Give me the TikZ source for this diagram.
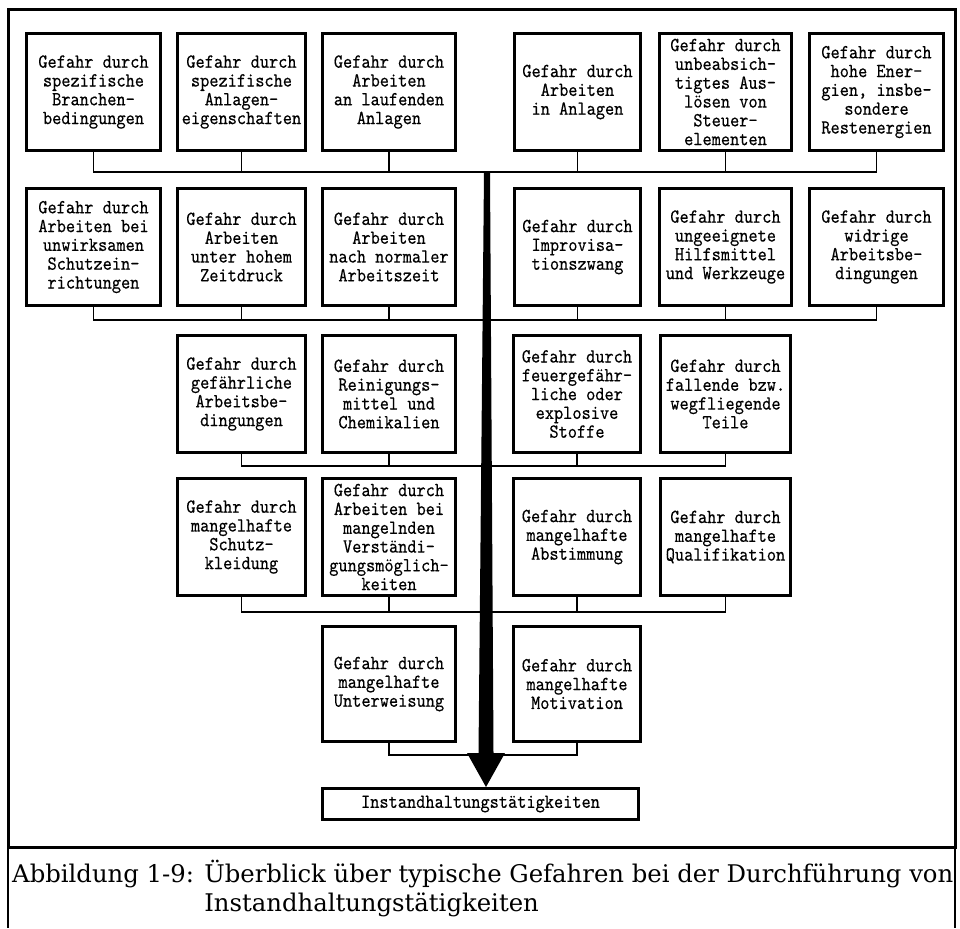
\documentclass[tikz,border=0pt]{standalone}
\usepackage{fontspec}
\usepackage{graphicx}
\newfontfamily\capfont{DejaVu Serif}
\newfontfamily\boxfont{lmmono10-regular.otf}[FakeStretch=0.875, FakeBold=0.35]
\usetikzlibrary{calc}
\tikzset{
  hbox/.style={draw, line width=2.6pt, align=center, inner sep=0pt,
    font=\boxfont\fontsize{20}{18.8}\selectfont},
  conn/.style={line width=1.8pt},
  framel/.style={line width=3pt},
  capl/.style={line width=1.2pt},
}
\begin{document}
\begin{tikzpicture}[x=1pt,y=-1pt]
\useasboundingbox (0,0) rectangle (960,928);
% frame
\draw[framel] (8,10) rectangle (955,847);
\draw[capl] (8,847) -- (8,928);
\draw[capl] (955,847) -- (955,928);

% row 1
\node[hbox, minimum width=134.4pt, minimum height=117.4pt] (b11) at (93.5,92) {Gefahr durch\\spezifische\\Branchen-\\bedingungen};
\node[hbox, minimum width=128.4pt, minimum height=117.4pt] (b12) at (241.5,92) {Gefahr durch\\spezifische\\Anlagen-\\eigenschaften};
\node[hbox, minimum width=133.4pt, minimum height=117.4pt] (b13) at (389,92) {Gefahr durch\\Arbeiten\\an laufenden\\Anlagen};
\node[hbox, minimum width=126.4pt, minimum height=117.4pt] (b14) at (577.5,92) {Gefahr durch\\Arbeiten\\in Anlagen};
\node[hbox, minimum width=132.4pt, minimum height=117.4pt] (b15) at (725.5,92) {Gefahr durch\\unbeabsich-\\tigtes Aus-\\lösen von\\Steuer-\\elementen};
\node[hbox, minimum width=134.4pt, minimum height=117.4pt] (b16) at (876.5,92) {Gefahr durch\\hohe Ener-\\gien, insbe-\\sondere\\Restenergien};

% row 2
\node[hbox, minimum width=134.4pt, minimum height=117.4pt] (b21) at (93.5,247) {Gefahr durch\\Arbeiten bei\\unwirksamen\\Schutzein-\\richtungen};
\node[hbox, minimum width=128.4pt, minimum height=117.4pt] (b22) at (241.5,247) {Gefahr durch\\Arbeiten\\unter hohem\\Zeitdruck};
\node[hbox, minimum width=133.4pt, minimum height=117.4pt] (b23) at (389,247) {Gefahr durch\\Arbeiten\\nach normaler\\Arbeitszeit};
\node[hbox, minimum width=126.4pt, minimum height=117.4pt] (b24) at (577.5,247) {Gefahr durch\\Improvisa-\\tionszwang};
\node[hbox, minimum width=132.4pt, minimum height=117.4pt] (b25) at (725.5,247) {Gefahr durch\\ungeeignete\\Hilfsmittel\\und Werkzeuge};
\node[hbox, minimum width=134.4pt, minimum height=117.4pt] (b26) at (876.5,247) {Gefahr durch\\widrige\\Arbeitsbe-\\dingungen};

% row 3
\node[hbox, minimum width=128.4pt, minimum height=117.4pt] (b32) at (241.5,394) {Gefahr durch\\gefährliche\\Arbeitsbe-\\dingungen};
\node[hbox, minimum width=133.4pt, minimum height=117.4pt] (b33) at (389,394) {Gefahr durch\\Reinigungs-\\mittel und\\Chemikalien};
\node[hbox, minimum width=127.4pt, minimum height=117.4pt] (b34) at (577,394) {Gefahr durch\\feuergefähr-\\liche oder\\explosive\\Stoffe};
\node[hbox, minimum width=130.4pt, minimum height=117.4pt] (b35) at (725.5,394) {Gefahr durch\\fallende bzw.\\wegfliegende\\Teile};

% row 4
\node[hbox, minimum width=128.4pt, minimum height=117.4pt] (b42) at (241.5,537) {Gefahr durch\\mangelhafte\\Schutz-\\kleidung};
\node[hbox, minimum width=133.4pt, minimum height=117.4pt] (b43) at (389,537) {Gefahr durch\\Arbeiten bei\\mangelnden\\Verständi-\\gungsmöglich-\\keiten};
\node[hbox, minimum width=127.4pt, minimum height=117.4pt] (b44) at (577,537) {Gefahr durch\\mangelhafte\\Abstimmung};
\node[hbox, minimum width=130.4pt, minimum height=117.4pt] (b45) at (725.5,537) {Gefahr durch\\mangelhafte\\Qualifikation};

% row 5
\node[hbox, minimum width=133.4pt, minimum height=115.4pt] (b53) at (389,684) {Gefahr durch\\mangelhafte\\Unterweisung};
\node[hbox, minimum width=127.4pt, minimum height=115.4pt] (b54) at (577,684) {Gefahr durch\\mangelhafte\\Motivation};

% target
\node[hbox, minimum width=316.4pt, minimum height=31.4pt] (fin) at (480.5,804) {Instandhaltungstätigkeiten};

% bus levels
\coordinate (r1) at (0,172);
\coordinate (r2) at (0,320);
\coordinate (r3) at (0,466);
\coordinate (r4) at (0,612);
\coordinate (r5) at (0,755);

% connectors
\draw[conn] (b11.south) -- (b11.south |- r1) -- (b16.south |- r1) -- (b16.south);
\foreach \n in {b12,b13,b14,b15} \draw[conn] (\n.south) -- (\n.south |- r1);
\draw[conn] (b21.south) -- (b21.south |- r2) -- (b26.south |- r2) -- (b26.south);
\foreach \n in {b22,b23,b24,b25} \draw[conn] (\n.south) -- (\n.south |- r2);
\draw[conn] (b32.south) -- (b32.south |- r3) -- (b35.south |- r3) -- (b35.south);
\foreach \n in {b33,b34} \draw[conn] (\n.south) -- (\n.south |- r3);
\draw[conn] (b42.south) -- (b42.south |- r4) -- (b45.south |- r4) -- (b45.south);
\foreach \n in {b43,b44} \draw[conn] (\n.south) -- (\n.south |- r4);
\draw[conn] (b53.south) -- (b53.south |- r5) -- (b54.south |- r5) -- (b54.south);

% main tapered arrow
\coordinate (stemtop) at (487,172);
\fill[black] ($(stemtop)+(-3,0)$) -- ($(stemtop)+(3,0)$) -- (493.5,753) -- (505,753)
  -- (fin.north -| 486,0) -- (467,753) -- (478.5,753) -- cycle;

% caption
\node[anchor=base west, inner sep=0pt] (cap) at (12,882) {\resizebox{941pt}{!}{\capfont\begin{tabular}[t]{@{}l@{}}Abbildung 1-9: Überblick über typische Gefahren bei der Durchführung von\\\phantom{Abbildung 1-9: }Instandhaltungstätigkeiten\end{tabular}}};
\end{tikzpicture}
\end{document}
